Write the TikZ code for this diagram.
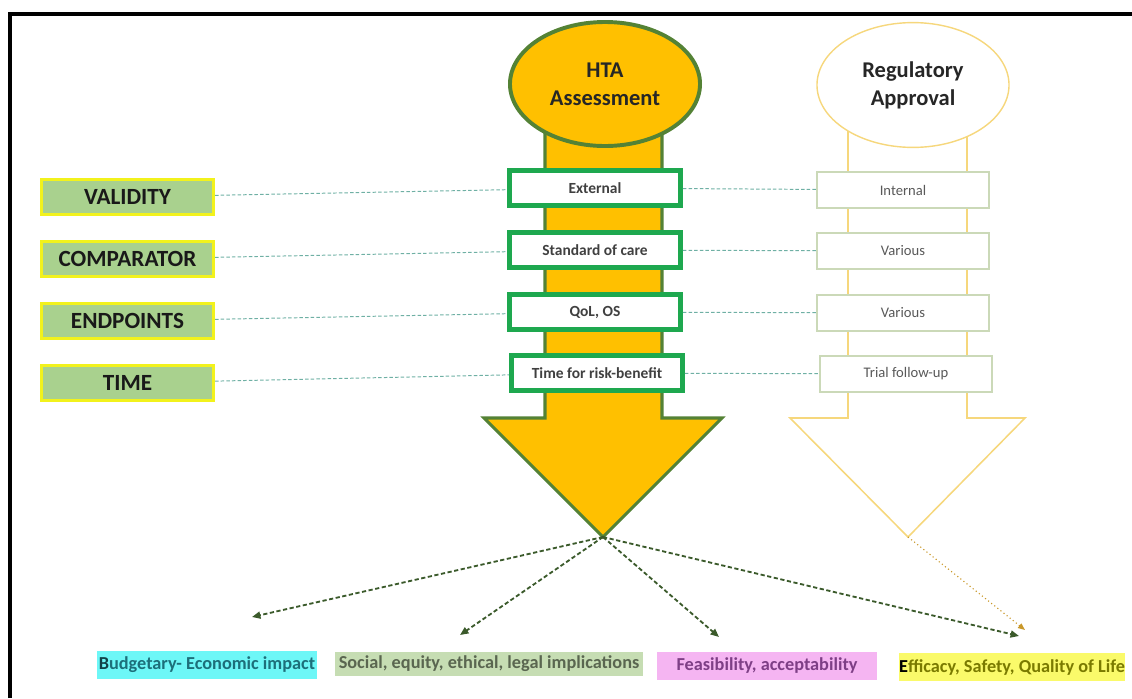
\documentclass[tikz,border=0pt]{standalone}
\usepackage{fontspec}
\setmainfont{Carlito}
\usepackage{xcolor}
\usetikzlibrary{arrows.meta, positioning, shapes.geometric}

\definecolor{htaorange}{HTML}{FFC000}
\definecolor{htagreen}{HTML}{548235}
\definecolor{boxgreen}{HTML}{1EA84F}
\definecolor{labelgreen}{HTML}{A9D18E}
\definecolor{labelyellow}{HTML}{F2F21C}
\definecolor{reggold}{HTML}{F6D77C}
\definecolor{reggray}{HTML}{CBD9B8}
\definecolor{linkteal}{HTML}{6FB0A4}
\definecolor{outgreen}{HTML}{3B5A2B}
\definecolor{outgold}{HTML}{C9982A}
\definecolor{cyanmark}{HTML}{6DF7F7}
\definecolor{sagemark}{HTML}{C6DDB3}
\definecolor{pinkmark}{HTML}{F5B5F2}
\definecolor{yellowmark}{HTML}{FAFA6A}
\definecolor{tealtext}{HTML}{1D6F7A}
\definecolor{sagetext}{HTML}{5A6650}
\definecolor{purpletext}{HTML}{7E3F86}
\definecolor{olivetext}{HTML}{7A7A00}

\begin{document}
\begin{tikzpicture}[
    x=0.025cm, y=-0.025cm,
    criterion/.style={
        draw=labelyellow, line width=2.2pt, fill=labelgreen,
        minimum width=4.3cm, minimum height=0.87cm, inner sep=0pt,
        font=\fontsize{16.5}{19}\selectfont\bfseries, text=black!90
    },
    htabox/.style={
        draw=boxgreen, line width=3.5pt, fill=white,
        minimum width=4.27cm, minimum height=0.87cm, inner sep=0pt,
        font=\fontsize{11}{13}\selectfont\bfseries, text=black!75
    },
    regbox/.style={
        draw=reggray, line width=0.8pt, fill=white,
        minimum width=4.3cm, minimum height=0.9cm, inner sep=0pt,
        font=\fontsize{10.4}{12}\selectfont, text=black!65
    },
    bubble/.style={
        ellipse, inner sep=0pt, align=center,
        font=\fontsize{16}{20}\selectfont\bfseries, text=black!85
    },
    link/.style={linkteal, line width=0.7pt, dash pattern=on 2.5pt off 1.5pt},
    outcome/.style={
        outgreen, line width=1.3pt, dash pattern=on 3pt off 1.8pt,
        -{Triangle[length=6pt,width=5pt]}
    },
    hilite/.style={
        inner sep=0pt, minimum height=0.68cm,
        font=\fontsize{13}{15}\selectfont\bfseries
    }
]
    \useasboundingbox (0,0) rectangle (1132,698);

    % 边框
    \draw[line width=3.5pt] (10,698) -- (10,14) -- (1132,14);

    % HTA 箭头（先画箭身，椭圆盖在上面）
    \draw[htagreen, line width=2.2pt, fill=htaorange]
        (545,120) -- (545,418) -- (484,418) -- (603,537)
        -- (722,418) -- (662,418) -- (662,120) -- cycle;
    \node[bubble, draw=htagreen, line width=2.8pt, fill=htaorange,
          minimum width=4.75cm, minimum height=3.1cm] (hta) at (605,84)
          {HTA\\Assessment};

    % Regulatory 箭头，只有轮廓
    \draw[reggold, line width=1.1pt, line join=miter]
        (848,120) -- (848,418) -- (790,418) -- (908,537)
        -- (1025,418) -- (967,418) -- (967,120);
    \node[bubble, draw=reggold, line width=1pt, fill=white,
          minimum width=4.8cm, minimum height=3.12cm] (reg) at (913,85)
          {Regulatory\\Approval};

    % 左侧标准
    \node[criterion] (validity)   at (127.5,197) {VALIDITY};
    \node[criterion] (comparator) at (127.5,259) {COMPARATOR};
    \node[criterion] (endpoints)  at (127.5,321) {ENDPOINTS};
    \node[criterion] (time)       at (127.5,383) {TIME};

    % HTA 一列
    \node[htabox] (external)    at (595,188) {External};
    \node[htabox] (standard)    at (595,250) {Standard of care};
    \node[htabox] (qol)         at (595,312) {QoL, OS};
    \node[htabox] (riskbenefit) at (597,373) {Time for risk-benefit};

    % Regulatory 一列
    \node[regbox] (internal) at (903,190) {Internal};
    \node[regbox] (various)  at (903,251) {Various};
    \node[regbox] (variousb) at (903,313) {Various};
    \node[regbox] (followup) at (906,374) {Trial follow-up};

    % 虚线连接
    \draw[link] (validity) -- (external);
    \draw[link] (external) -- (internal);
    \draw[link] (comparator) -- (standard);
    \draw[link] (standard) -- (various);
    \draw[link] (endpoints) -- (qol);
    \draw[link] (qol) -- (variousb);
    \draw[link] (time) -- (riskbenefit);
    \draw[link] (riskbenefit) -- (followup);

    % 底部结果
    \node[hilite, fill=cyanmark, text=tealtext, minimum width=5.5cm]
        (budget) at (207,665) {{\color{tealtext!60!black}B}udgetary- Economic impact};
    \node[hilite, fill=sagemark, text=sagetext, minimum width=7.7cm, minimum height=0.6cm]
        (social) at (489,664) {Social, equity, ethical, legal implications};
    \node[hilite, fill=pinkmark, text=purpletext, minimum width=5.5cm]
        (feasible) at (767,666) {Feasibility, acceptability};
    \node[hilite, fill=yellowmark, text=olivetext, minimum width=5.48cm]
        (efficacy) at (1012,667) {{\color{black}E}fficacy, Safety, Quality of Life};

    % 箭头
    \coordinate (htatip) at (603,537);
    \coordinate (regtip) at (908,537);
    \coordinate (budgetend) at (252,617);
    \coordinate (socialend) at (460,635);
    \coordinate (feasend) at (719,637);
    \coordinate (effend) at (1019,636);
    \coordinate (regend) at (1025,630);

    \draw[outcome] (htatip) -- (budgetend);
    \draw[outcome] (htatip) -- (socialend);
    \draw[outcome] (htatip) -- (feasend);
    \draw[outcome] (htatip) -- (effend);
    \draw[outgold, line width=0.8pt, dotted, -{Triangle[length=5pt,width=4pt]}]
        (regtip) -- (regend);
\end{tikzpicture}
\end{document}
